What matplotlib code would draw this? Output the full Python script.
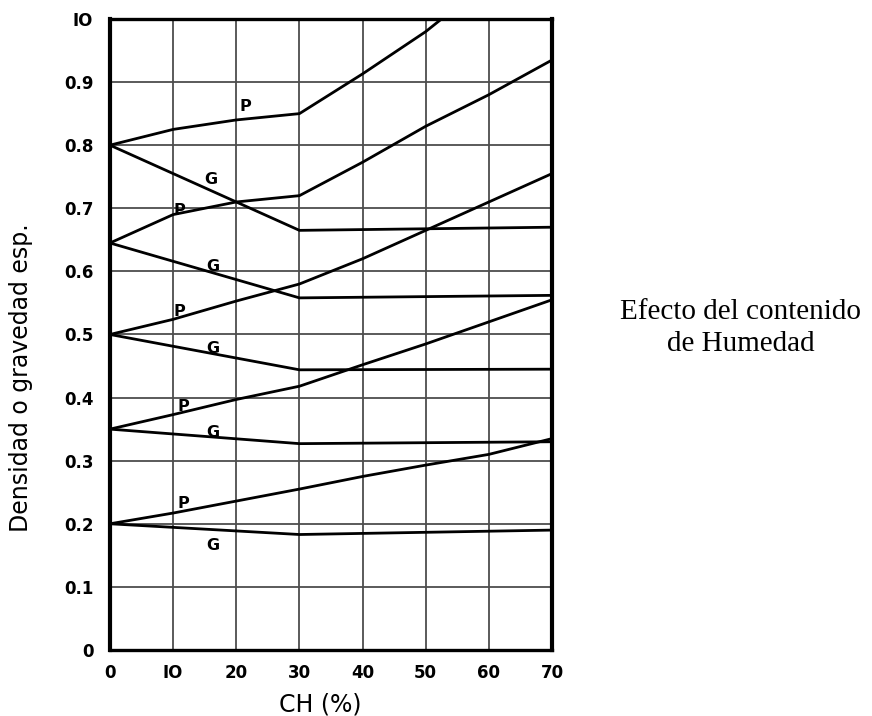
import numpy as np
import matplotlib
matplotlib.use("Agg")
import matplotlib.pyplot as plt

# CH (%) vs density curves, P and G for five starting densities
ch_p1 = [0, 10, 20, 30, 40, 50, 52.5]
p1 = [0.80, 0.825, 0.84, 0.85, 0.913, 0.98, 1.0]
ch_g1 = [0, 30, 70]
g1 = [0.80, 0.665, 0.67]

ch_p2 = [0, 10, 20, 30, 40, 50, 60, 70]
p2 = [0.645, 0.69, 0.71, 0.72, 0.773, 0.83, 0.88, 0.935]
ch_g2 = [0, 30, 70]
g2 = [0.645, 0.558, 0.562]

ch_p3 = [0, 10, 20, 30, 40, 50, 60, 70]
p3 = [0.50, 0.524, 0.553, 0.58, 0.62, 0.665, 0.71, 0.755]
ch_g3 = [0, 30, 70]
g3 = [0.50, 0.444, 0.445]

ch_p4 = [0, 10, 20, 30, 40, 50, 60, 70]
p4 = [0.35, 0.373, 0.397, 0.418, 0.452, 0.485, 0.52, 0.555]
ch_g4 = [0, 30, 70]
g4 = [0.35, 0.327, 0.33]

ch_p5 = [0, 10, 20, 30, 40, 50, 60, 70]
p5 = [0.20, 0.217, 0.236, 0.255, 0.275, 0.293, 0.31, 0.335]
ch_g5 = [0, 30, 70]
g5 = [0.20, 0.183, 0.19]

# curve labels (x, y, text)
lbl_x = [21.4, 15.9, 11.0, 16.3, 11.0, 16.3, 11.6, 16.3, 11.7, 16.3]
lbl_y = [0.862, 0.745, 0.697, 0.608, 0.537, 0.478, 0.386, 0.344, 0.232, 0.166]
lbl_t = ["P", "G", "P", "G", "P", "G", "P", "G", "P", "G"]

xticks = [0, 10, 20, 30, 40, 50, 60, 70]
xtick_labels = ["0", "IO", "20", "30", "40", "50", "60", "70"]
yticks = [0, 0.1, 0.2, 0.3, 0.4, 0.5, 0.6, 0.7, 0.8, 0.9, 1.0]
ytick_labels = ["0", "0.1", "0.2", "0.3", "0.4", "0.5", "0.6", "0.7", "0.8", "0.9", "IO"]

fig = plt.figure(figsize=(8.72, 7.16), dpi=100)
ax = fig.add_axes([0.1261, 0.0922, 0.507, 0.8813])

for x, y in [(ch_p1, p1), (ch_g1, g1), (ch_p2, p2), (ch_g2, g2), (ch_p3, p3),
             (ch_g3, g3), (ch_p4, p4), (ch_g4, g4), (ch_p5, p5), (ch_g5, g5)]:
    ax.plot(x, y, color="black", lw=2.0, zorder=3)

for x, y, t in zip(lbl_x, lbl_y, lbl_t):
    ax.text(x, y, t, fontsize=11.5, fontweight="bold", ha="center", va="center", zorder=4)

ax.set_xlim(0, 70)
ax.set_ylim(0, 1.0)
ax.set_xticks(xticks)
ax.set_xticklabels(xtick_labels)
ax.set_yticks(yticks)
ax.set_yticklabels(ytick_labels)
ax.grid(True, color="#4d4d4d", lw=1.3, zorder=1)
ax.tick_params(length=0, labelsize=12)
ax.tick_params(axis="x", pad=10)
ax.tick_params(axis="y", pad=12)
for lab in ax.get_xticklabels() + ax.get_yticklabels():
    lab.set_fontweight("bold")

for side in ["left", "right"]:
    ax.spines[side].set_linewidth(3.0)
for side in ["top", "bottom"]:
    ax.spines[side].set_linewidth(2.4)

ax.set_xlabel("CH (%)", fontsize=17)
ax.xaxis.set_label_coords(0.475, -0.068)
ax.set_ylabel("Densidad o gravedad esp.", fontsize=17)
ax.yaxis.set_label_coords(-0.174, 0.431)

fig.text(0.849, 0.542, "Efecto del contenido\nde Humedad", family="Liberation Serif",
         fontsize=21, ha="center", va="center", linespacing=1.3)

fig.savefig("out.png", dpi=100)
